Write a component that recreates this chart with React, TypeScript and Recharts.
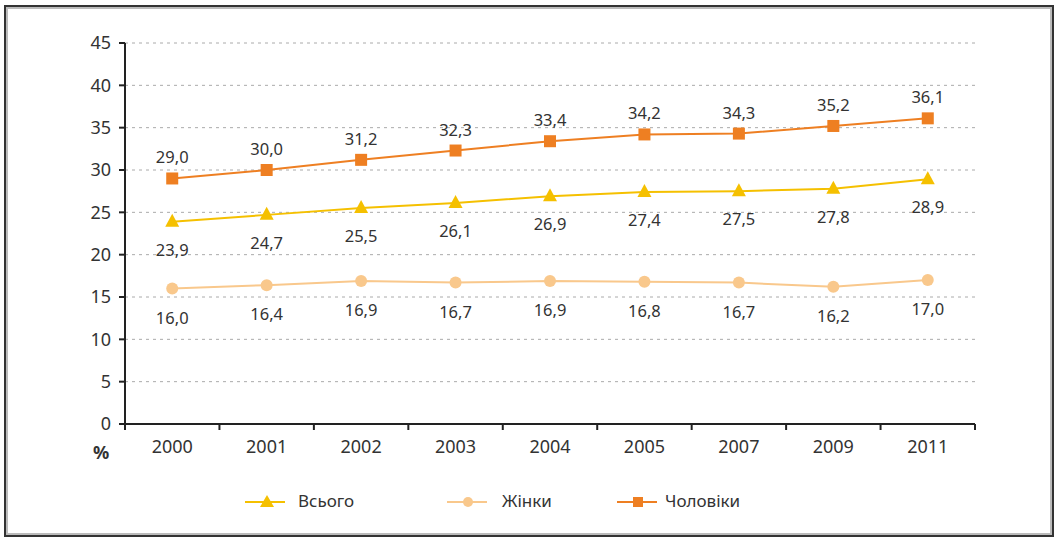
import React from 'react';
import { CartesianGrid, LabelList, Line, LineChart, XAxis, YAxis } from 'recharts';

const years = ['2000', '2001', '2002', '2003', '2004', '2005', '2007', '2009', '2011'];
const total = [23.9, 24.7, 25.5, 26.1, 26.9, 27.4, 27.5, 27.8, 28.9];
const women = [16.0, 16.4, 16.9, 16.7, 16.9, 16.8, 16.7, 16.2, 17.0];
const men = [29.0, 30.0, 31.2, 32.3, 33.4, 34.2, 34.3, 35.2, 36.1];
const yTicks = [0, 5, 10, 15, 20, 25, 30, 35, 40, 45];

const data = years.map((year, i) => ({ year, total: total[i], women: women[i], men: men[i] }));

const FONT = '"Noto Sans", "DejaVu Sans", sans-serif';
const TEXT = '#333';
const C_TOTAL = '#f5c000';
const C_WOMEN = '#f9c88c';
const C_MEN = '#ee7f22';

const PLOT_W = 850;
const BAND = PLOT_W / years.length;

const fmt = (v: number) => v.toFixed(1).replace('.', ',');

const XTick = (props: any) => {
  const { x, y, payload, index } = props;
  const last = index === years.length - 1;
  return (
    <g>
      <line x1={x - BAND / 2} y1={y - 8} x2={x - BAND / 2} y2={y - 2} stroke="#222" strokeWidth={2} />
      {last && <line x1={x + BAND / 2} y1={y - 8} x2={x + BAND / 2} y2={y - 2} stroke="#222" strokeWidth={2} />}
      <text x={x} y={y + 21} textAnchor="middle" fontSize={18} fill={TEXT} fontFamily={FONT}>
        {payload.value}
      </text>
    </g>
  );
};

const makeLabel = (dy: number) => (props: any) => {
  const { x, y, value } = props;
  return (
    <text x={x} y={y + dy} textAnchor="middle" fontSize={16.5} fill={TEXT} fontFamily={FONT}>
      {fmt(value)}
    </text>
  );
};

const Triangle = (props: any) => {
  const { cx, cy } = props;
  if (cx == null) return null;
  return <path d={`M${cx},${cy - 8} L${cx + 7},${cy + 5} L${cx - 7},${cy + 5} Z`} fill={C_TOTAL} />;
};

const Square = (props: any) => {
  const { cx, cy } = props;
  if (cx == null) return null;
  return <rect x={cx - 6} y={cy - 6} width={12} height={12} fill={C_MEN} />;
};

const Dot = (props: any) => {
  const { cx, cy } = props;
  if (cx == null) return null;
  return <circle cx={cx} cy={cy} r={6} fill={C_WOMEN} />;
};

const LegendItem = ({ left, textLeft, color, label, marker }: any) => (
  <>
    <svg style={{ position: 'absolute', left, top: 490 }} width={42} height={24}>
      <line x1={0} y1={12} x2={40} y2={12} stroke={color} strokeWidth={2} />
      {marker}
    </svg>
    <div style={{ position: 'absolute', left: textLeft, top: 489, fontFamily: FONT, fontSize: 17, color: TEXT, lineHeight: '24px' }}>
      {label}
    </div>
  </>
);

export default function App() {
  return (
    <div style={{ position: 'absolute', left: 0, top: 0, width: 1058, height: 540, background: '#fff', overflow: 'hidden' }}>
      <div style={{ position: 'absolute', left: 4, top: 5, width: 1046, height: 528, border: '2px solid #333', boxShadow: 'inset 0 0 0 2px #bbb' }} />
      <LineChart width={1058} height={540} data={data} margin={{ top: 43, right: 83, left: 0, bottom: 86 }}>
        <CartesianGrid vertical={false} stroke="#aaa" strokeDasharray="3 4" />
        <XAxis
          dataKey="year"
          height={30}
          padding={{ left: BAND / 2, right: BAND / 2 }}
          axisLine={{ stroke: '#222', strokeWidth: 2 }}
          tickLine={false}
          tick={<XTick />}
          interval={0}
        />
        <YAxis
          width={125}
          domain={[0, 45]}
          ticks={yTicks}
          interval={0}
          axisLine={{ stroke: '#222', strokeWidth: 2 }}
          tickLine={{ stroke: '#222', strokeWidth: 2 }}
          tickSize={6}
          tickMargin={8}
          tick={{ fontSize: 18, fill: TEXT, fontFamily: FONT }}
        />
        <Line type="linear" dataKey="women" stroke={C_WOMEN} strokeWidth={2} dot={<Dot />} isAnimationActive={false}>
          <LabelList dataKey="women" content={makeLabel(35)} />
        </Line>
        <Line type="linear" dataKey="total" stroke={C_TOTAL} strokeWidth={2} dot={<Triangle />} isAnimationActive={false}>
          <LabelList dataKey="total" content={makeLabel(34)} />
        </Line>
        <Line type="linear" dataKey="men" stroke={C_MEN} strokeWidth={2} dot={<Square />} isAnimationActive={false}>
          <LabelList dataKey="men" content={makeLabel(-15)} />
        </Line>
      </LineChart>
      <div style={{ position: 'absolute', left: 93, top: 440, fontFamily: FONT, fontSize: 18, fontWeight: 'bold', color: TEXT }}>%</div>
      <LegendItem
        left={245}
        textLeft={298}
        color={C_TOTAL}
        label="Всього"
        marker={<path d="M22,5 L29,17 L15,17 Z" fill={C_TOTAL} />}
      />
      <LegendItem
        left={447}
        textLeft={502}
        color={C_WOMEN}
        label="Жінки"
        marker={<circle cx={21} cy={12} r={5} fill={C_WOMEN} />}
      />
      <LegendItem
        left={617}
        textLeft={665}
        color={C_MEN}
        label="Чоловіки"
        marker={<rect x={16} y={7} width={10} height={10} fill={C_MEN} />}
      />
    </div>
  );
}
